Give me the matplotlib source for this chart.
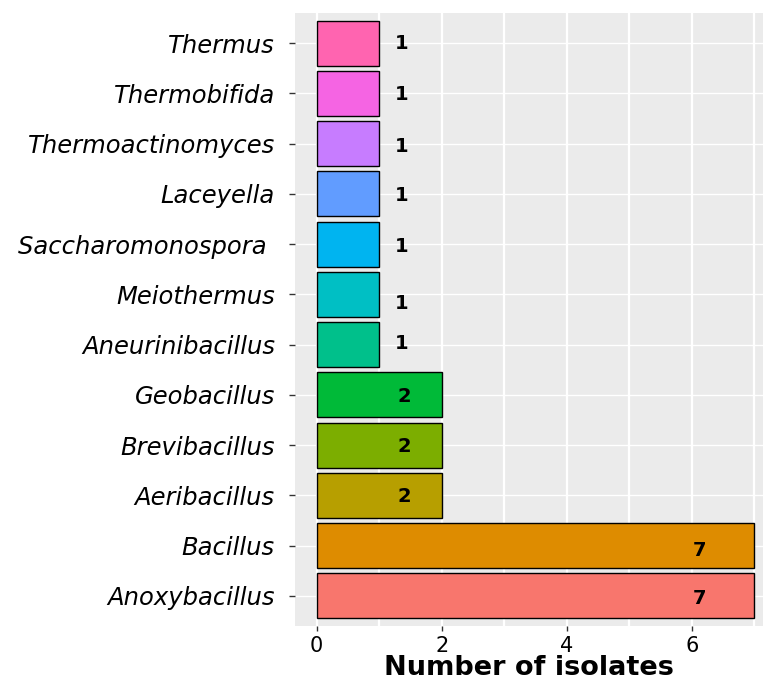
import numpy as np
import matplotlib
matplotlib.use("Agg")
import matplotlib.pyplot as plt
from matplotlib.ticker import MultipleLocator

# data, bottom to top as drawn
genera = ["Anoxybacillus", "Bacillus", "Aeribacillus", "Brevibacillus",
          "Geobacillus", "Aneurinibacillus", "Meiothermus",
          "Saccharomonospora ", "Laceyella", "Thermoactinomyces",
          "Thermobifida", "Thermus"]
isolates = [7, 7, 2, 2, 2, 1, 1, 1, 1, 1, 1, 1]

# ggplot hue palette for 12 groups
colors = ["#F8766D", "#DE8C00", "#B79F00", "#7CAE00", "#00BA38", "#00C08B",
          "#00BFC4", "#00B4F0", "#619CFF", "#C77CFF", "#F564E3", "#FF64B0"]

# where the count labels sit relative to the bar end
label_nudge = {1: 0.36, 2: -0.59, 7: -0.88}
label_dy = [-0.05, -0.09, -0.03, -0.03, -0.03, 0.03, -0.19, -0.05, -0.04, -0.05, -0.02, 0.0]

plt.rcParams["font.family"] = ["DejaVu Sans"]

fig = plt.figure(figsize=(7.63, 6.84), dpi=100)
ax = fig.add_axes([0.3866, 0.0848, 0.6134, 0.8962])

y = np.arange(1, len(genera) + 1)
ax.barh(y, isolates, height=0.9, color=colors, edgecolor="black",
        linewidth=1.0, zorder=3)

for yi, n, dy in zip(y, isolates, label_dy):
    ax.text(n + label_nudge[n], yi + dy, str(n), ha="center", va="center",
            fontsize=14, fontweight="bold", color="black", zorder=4)

ax.set_facecolor("#EBEBEB")
for s in ax.spines.values():
    s.set_visible(False)

ax.set_xlim(-0.347, 7.14)
ax.set_ylim(0.4, 12.6)
ax.set_yticks(y)
ax.set_yticklabels(genera, fontsize=17.5, fontstyle="italic", color="black")
ax.xaxis.set_major_locator(MultipleLocator(2))
ax.xaxis.set_minor_locator(MultipleLocator(1))
ax.tick_params(axis="x", which="major", labelsize=15, length=3.5, width=1.0,
               color="#333333", labelcolor="black", pad=4)
ax.tick_params(axis="x", which="minor", length=0)
ax.tick_params(axis="y", length=4.5, width=1.0, color="#333333", pad=10)

ax.grid(True, which="major", axis="y", color="white", linewidth=1.0, zorder=0)
ax.grid(True, which="both", axis="x", color="white", linewidth=1.6, zorder=0)
ax.set_axisbelow(True)

ax.set_xlabel("Number of isolates", fontsize=19.5, fontweight="bold")
ax.xaxis.set_label_coords(0.5, -0.0685)
ax.xaxis.label.set_va("center")

fig.savefig("out.png", dpi=100)
